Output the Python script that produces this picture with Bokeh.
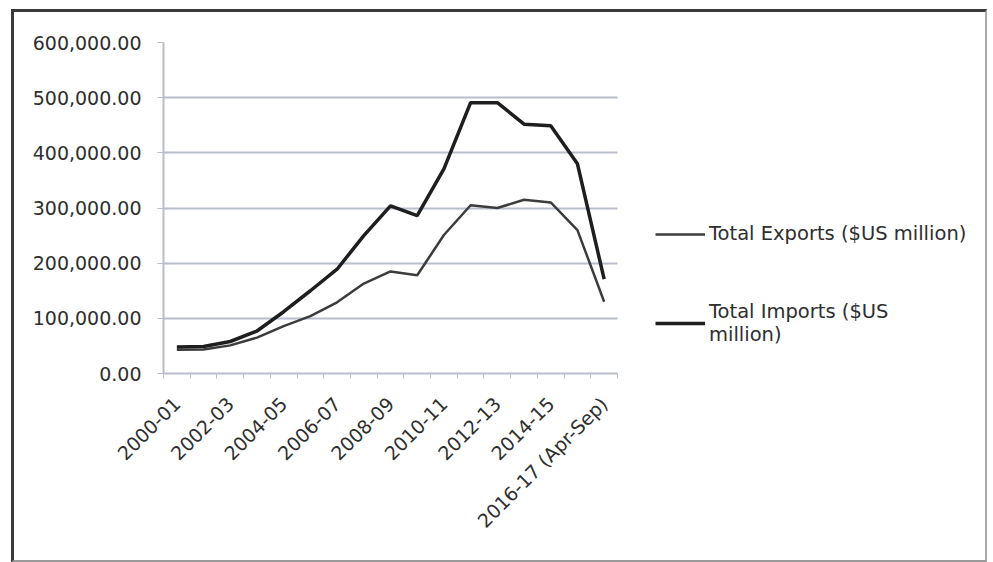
import math
from bokeh.plotting import figure
from bokeh.models import (Range1d, FixedTicker, NumeralTickFormatter,
                          Legend, LegendItem, Grid)
from bokeh.embed import file_html
from bokeh.resources import INLINE

years = ["2000-01", "2001-02", "2002-03", "2003-04", "2004-05", "2005-06",
         "2006-07", "2007-08", "2008-09", "2009-10", "2010-11", "2011-12",
         "2012-13", "2013-14", "2014-15", "2015-16", "2016-17 (Apr-Sep)"]
exports = [43000, 43500, 51000, 65000, 86000, 104000, 129000, 163000, 185000,
           178000, 251000, 305000, 300000, 315000, 310000, 260000, 130000]
imports = [48000, 49000, 58000, 77000, 112000, 150000, 189000, 250000, 304000,
           286000, 371000, 491000, 491000, 452000, 449000, 380000, 171000]
y_ticks = [0, 100000, 200000, 300000, 400000, 500000, 600000]
shown_labels = ["2000-01", "2002-03", "2004-05", "2006-07", "2008-09",
                "2010-11", "2012-13", "2014-15", "2016-17 (Apr-Sep)"]

FONT = "DejaVu Sans"
TXT = "#2e2e2e"
GRID = "#b9bdcc"

n = len(years)
idx = list(range(n))
label_ticks = [i for i, y in enumerate(years) if y in shown_labels]
boundaries = [i - 0.5 for i in range(n + 1)]

# layout (pixels): plot area 163..617 of a frame that also holds the legend
W, H = 976, 553
ML, MT, MR, MB = 149, 30, 10, 192
frame_w = W - ML - MR
plot_w = 454
x_end = -0.5 + n * frame_w / plot_w

p = figure(width=W, height=H, x_range=Range1d(-0.5, x_end),
           y_range=Range1d(0, 600000), output_backend="svg", toolbar_location=None,
           min_border_left=ML, min_border_top=MT, min_border_right=MR,
           min_border_bottom=MB)
p.styles = {"border-left": "3px solid #3a3a3a", "border-top": "3px solid #3a3a3a",
            "border-right": "2px solid #a8a8a8", "border-bottom": "2px solid #9a9a9a",
            "margin-left": "11px", "margin-top": "9px"}
p.outline_line_color = None
p.background_fill_color = "white"
p.border_fill_color = "white"

p.xgrid.grid_line_color = None
if "cross_bounds" in Grid.properties():
    p.ygrid.grid_line_color = GRID
    p.ygrid.grid_line_width = 2
    p.ygrid.cross_bounds = (-0.5, n - 0.5)
else:
    p.ygrid.grid_line_color = None
    p.segment(x0=-0.5, x1=n - 0.5, y0=y_ticks, y1=y_ticks,
              line_color=GRID, line_width=2, level="underlay")

r_exp = p.line(idx, exports, line_color="#3c3c3c", line_width=2.5)
r_imp = p.line(idx, imports, line_color="#1e1e1e", line_width=3.5)

p.yaxis.ticker = FixedTicker(ticks=y_ticks)
p.yaxis.formatter = NumeralTickFormatter(format="0,0.00")
p.yaxis.axis_line_color = GRID
p.yaxis.axis_line_width = 2
p.yaxis.major_tick_line_color = GRID
p.yaxis.major_tick_out = 6
p.yaxis.major_tick_in = 0
p.yaxis.minor_tick_line_color = None
p.yaxis.major_label_text_font = FONT
p.yaxis.major_label_text_font_size = "19px"
p.yaxis.major_label_text_color = TXT
p.yaxis.major_label_standoff = 16

p.xaxis.bounds = (-0.5, n - 0.5)
p.xaxis.ticker = FixedTicker(ticks=label_ticks, minor_ticks=boundaries)
p.xaxis.major_label_overrides = {i: years[i] for i in label_ticks}
p.xaxis.axis_line_color = GRID
p.xaxis.axis_line_width = 2
p.xaxis.major_tick_line_color = None
p.xaxis.major_tick_out = 0
p.xaxis.major_tick_in = 0
p.xaxis.minor_tick_line_color = GRID
p.xaxis.minor_tick_out = 5
p.xaxis.minor_tick_in = 0
p.xaxis.major_label_orientation = math.pi / 4
p.xaxis.major_label_text_font = FONT
p.xaxis.major_label_text_font_size = "19px"
p.xaxis.major_label_text_color = TXT
p.xaxis.major_label_standoff = 22

legend = Legend(items=[LegendItem(label="Total Exports ($US million)", renderers=[r_exp]),
                       LegendItem(label="Total Imports ($US\nmillion)", renderers=[r_imp])],
                location=(492, 27), background_fill_alpha=0,
                border_line_color=None, padding=0, margin=0, glyph_width=50,
                label_standoff=4, label_text_font=FONT, label_text_font_size="19.5px",
                label_text_color=TXT, spacing=55)
p.add_layout(legend)

open("out.html", "w").write(file_html(p, INLINE))
